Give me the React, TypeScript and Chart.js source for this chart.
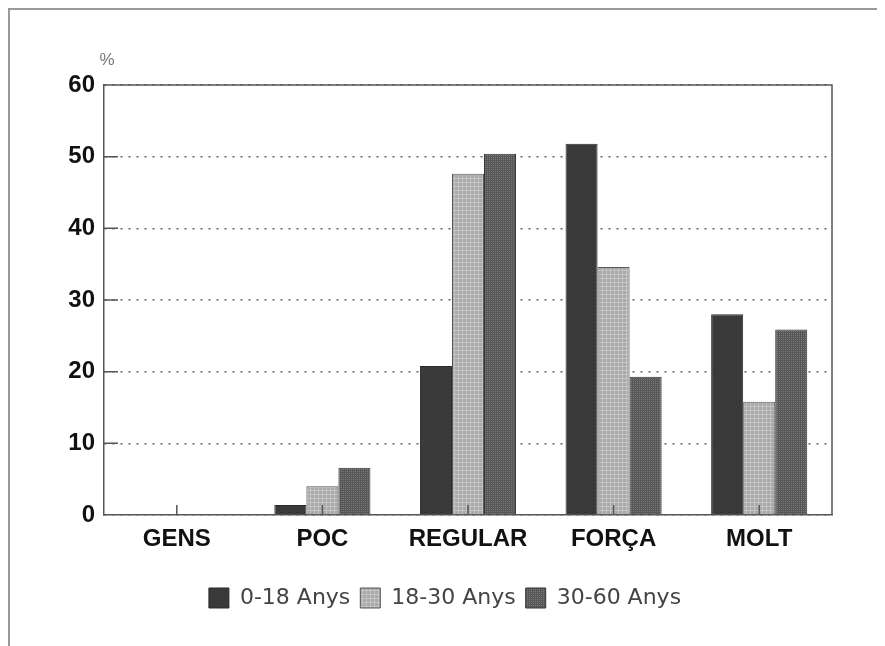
import React, { useEffect, useRef } from "react";
import { Chart, registerables } from "chart.js";

Chart.register(...registerables);

const categories = ["GENS", "POC", "REGULAR", "FORÇA", "MOLT"];
const seriesLabels = ["0-18 Anys", "18-30 Anys", "30-60 Anys"];
const values0to18 = [0, 1.4, 20.8, 51.8, 28.0];
const values18to30 = [0, 4.0, 47.6, 34.6, 15.8];
const values30to60 = [0, 6.6, 50.4, 19.3, 25.9];
const yTicks = [0, 10, 20, 30, 40, 50, 60];
const unitLabel = "%";

function makePattern(base: string, accent: string, kind: number): CanvasPattern | string {
  const c = document.createElement("canvas");
  c.width = 4;
  c.height = 4;
  const g = c.getContext("2d");
  if (!g) return base;
  g.fillStyle = base;
  g.fillRect(0, 0, 4, 4);
  g.fillStyle = accent;
  if (kind === 0) {
    g.fillRect(0, 0, 1, 1);
    g.fillRect(2, 2, 1, 1);
  } else if (kind === 1) {
    g.fillRect(0, 0, 1, 4);
    g.fillRect(0, 0, 4, 1);
  } else {
    g.fillRect(1, 1, 1, 1);
    g.fillRect(3, 3, 1, 1);
    g.fillRect(3, 1, 1, 1);
    g.fillRect(1, 3, 1, 1);
  }
  const p = g.createPattern(c, "repeat");
  return p || base;
}

export default function App() {
  const canvasRef = useRef<HTMLCanvasElement | null>(null);

  useEffect(() => {
    document.body.style.overflow = "hidden";
    const canvas = canvasRef.current;
    if (!canvas) return;

    const p0 = makePattern("#3b3b3b", "#2e2e2e", 0);
    const p1 = makePattern("#a9a9a9", "#c4c4c4", 1);
    const p2 = makePattern("#575757", "#7a7a7a", 2);

    const framePlugin = {
      id: "frame",
      afterDatasetsDraw(chart: any) {
        const { ctx, chartArea, scales } = chart;
        const { left, right, top, bottom } = chartArea;
        ctx.save();
        ctx.strokeStyle = "#555";
        ctx.lineWidth = 1.5;
        ctx.setLineDash([]);
        ctx.beginPath();
        ctx.moveTo(left, top);
        ctx.lineTo(right, top);
        ctx.lineTo(right, bottom);
        ctx.stroke();
        ctx.beginPath();
        yTicks.forEach((v) => {
          if (v === 0 || v === 60) return;
          const y = scales.y.getPixelForValue(v);
          ctx.moveTo(left, y);
          ctx.lineTo(left + 14, y);
        });
        categories.forEach((_, i) => {
          const x = scales.x.getPixelForValue(i);
          ctx.moveTo(x, bottom);
          ctx.lineTo(x, bottom - 10);
        });
        ctx.stroke();
        ctx.fillStyle = "#777";
        ctx.font = "17px 'Liberation Sans', Arial, sans-serif";
        ctx.textAlign = "center";
        ctx.textBaseline = "middle";
        ctx.fillText(unitLabel, left + 3, top - 25);
        ctx.restore();
      },
    };

    const chart = new Chart(canvas, {
      type: "bar",
      data: {
        labels: categories,
        datasets: [
          { label: seriesLabels[0], data: values0to18, backgroundColor: p0 as any, borderColor: "#2a2a2a", borderWidth: 1 },
          { label: seriesLabels[1], data: values18to30, backgroundColor: p1 as any, borderColor: "#555", borderWidth: 1 },
          { label: seriesLabels[2], data: values30to60, backgroundColor: p2 as any, borderColor: "#333", borderWidth: 1 },
        ],
      },
      options: {
        animation: false,
        responsive: true,
        maintainAspectRatio: false,
        layout: { padding: { left: 48, right: 53, top: 75, bottom: 27 } },
        datasets: {
          bar: { categoryPercentage: 0.66, barPercentage: 1.0 },
        },
        scales: {
          x: {
            grid: { display: false, drawTicks: false },
            border: { display: true, color: "#555", width: 1.5 },
            ticks: {
              color: "#111",
              padding: 10,
              font: { family: "'Liberation Sans', Arial, sans-serif", size: 24, weight: "bold" },
            },
            afterFit(scale: any) {
              scale.height = 62;
            },
          },
          y: {
            min: 0,
            max: 60,
            afterBuildTicks(scale: any) {
              scale.ticks = yTicks.map((v) => ({ value: v }));
            },
            grid: { color: "#666", lineWidth: 1.5, drawTicks: false },
            border: { display: true, color: "#555", width: 1.5, dash: [2, 6] },
            ticks: {
              color: "#111",
              padding: 9,
              font: { family: "'Liberation Sans', Arial, sans-serif", size: 24, weight: "bold" },
            },
            afterFit(scale: any) {
              scale.width = 46;
            },
          },
        },
        plugins: {
          legend: {
            position: "bottom",
            labels: {
              boxWidth: 20,
              boxHeight: 20,
              padding: 10,
              color: "#444",
              font: { family: "'DejaVu Sans', sans-serif", size: 22 },
            },
          },
          tooltip: { enabled: false },
        },
      },
      plugins: [framePlugin],
    });

    return () => chart.destroy();
  }, []);

  return (
    <div
      style={{
        width: 877,
        height: 638,
        boxSizing: "border-box",
        borderTop: "2px solid #999",
        borderLeft: "2px solid #999",
        background: "#fff",
      }}
    >
      <div style={{ position: "relative", width: "100%", height: "100%" }}>
        <canvas ref={canvasRef} />
      </div>
    </div>
  );
}
